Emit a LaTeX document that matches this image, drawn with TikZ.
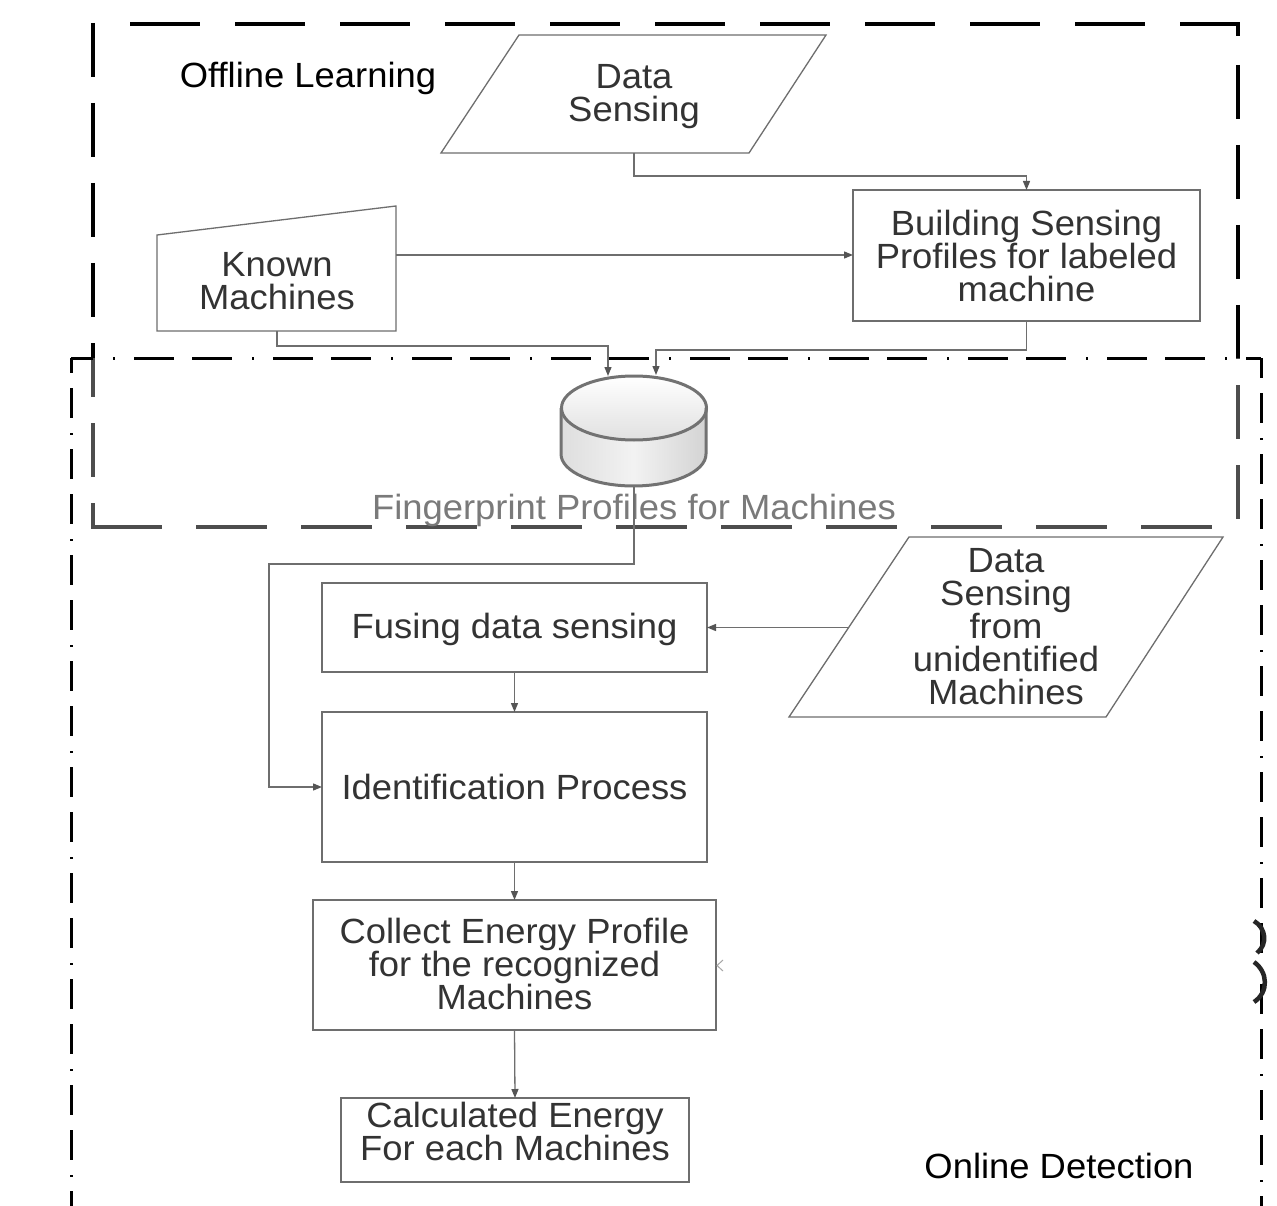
\documentclass[tikz,border=0pt]{standalone}
\usepackage{fontspec}
\setmainfont{Liberation Sans}[FakeStretch=1.04]
\usetikzlibrary{arrows.meta,calc}
\definecolor{linegray}{HTML}{6E6E6E}
\definecolor{tipgray}{HTML}{555555}
\definecolor{textgray}{HTML}{333333}
\definecolor{labelgray}{HTML}{7A7A7A}
\definecolor{cylline}{HTML}{727272}
\begin{document}
\begin{tikzpicture}[x=1pt,y=-1pt,
  box/.style={draw=linegray,line width=1.3pt,inner sep=0pt,outer sep=0pt},
  shapeline/.style={draw=linegray,line width=1.3pt},
  txt/.style={text=textgray,align=center,inner sep=0pt,font=\fontsize{35}{33}\selectfont},
  title/.style={text=black,inner sep=0pt,font=\fontsize{35}{33}\selectfont},
  conn/.style={draw=linegray,line width=1.3pt,-{Triangle[length=9pt,width=7pt,color=tipgray]}},
  offdash/.style={line width=4pt,black},
  ondash/.style={line width=3pt,black}
]
\useasboundingbox (0,0) rectangle (1277,1206);
\fill[white] (0,0) rectangle (1277,1206);

% Offline learning frame
\draw[offdash,dash pattern=on 70pt off 35pt] (130,24) -- (1238,24) -- (1238,37);
\draw[offdash,dash pattern=on 54pt off 26pt] (1238,65) -- (1238,519);
\draw[offdash,dash pattern=on 54pt off 26pt] (93,23) -- (93,527);
\draw[offdash,dash pattern=on 71pt off 34pt] (91,527) -- (1215,527);
% the part of the frame lying inside the online area is toned down
\fill[white,opacity=0.3] (71,358) rectangle (1261,1206);

% Online detection frame (dash-dash-dot)
\draw[ondash,dash pattern=on 2pt off 19pt on 40pt off 18pt on 40pt off 20pt,dash phase=97pt] (71,358) -- (1261,358);
\draw[ondash,dash pattern=on 2pt off 14pt on 30pt off 15pt on 30pt off 15pt,dash phase=31pt] (71,358) -- (71,1206);
\draw[ondash,dash pattern=on 2pt off 14pt on 30pt off 15pt on 30pt off 15pt,dash phase=26pt] (1261,358) -- (1261,1206);
\draw[line width=4.5pt,black!85] (1254,921) .. controls (1266,928) and (1268,944) .. (1257,953);
\draw[line width=4.5pt,black!85] (1254,962) .. controls (1268,972) and (1269,992) .. (1254,1002);

% Frame titles
\node[title] (offt) at (308,78) {Offline Learning};
\node[title] (ont) at (1059,1166) {Online Detection};

% Data Sensing (input)
\draw[shapeline] (441,153) -- (519,35) -- (826,35) -- (749,153) -- cycle;
\node[txt] (ds) at (634,97) {Data\\Sensing};
\coordinate (dsB) at (634,153);

% Known Machines (manual input)
\draw[shapeline] (157,331) -- (157,235) -- (396,206) -- (396,331) -- cycle;
\node[txt] (km) at (277,281) {Known\\Machines};
\coordinate (kmE) at (396,255);
\coordinate (kmB) at (277,331);

% Building sensing profiles
\node[box,minimum width=347pt,minimum height=131pt] (build) at (1026.5,255.5) {};
\node[txt] (buildt) at (build.center) {Building Sensing\\Profiles for labeled\\machine};

% Fingerprint database
\shade[left color=black!13,right color=black!17,middle color=black!5]
  (561,408) -- (561,454) arc[start angle=180,end angle=0,x radius=72.5,y radius=32] -- (706,408) -- cycle;
\shade[top color=white,bottom color=black!12] (634,408) ellipse[x radius=72.5,y radius=32];
\draw[cylline,line width=3pt] (561,408) -- (561,454) arc[start angle=180,end angle=0,x radius=72.5,y radius=32] -- (706,408);
\draw[cylline,line width=3pt] (634,408) ellipse[x radius=72.5,y radius=32];
\coordinate (cylL) at (608,376);
\coordinate (cylR) at (656,375);
\coordinate (cylB) at (634,487);
\node[text=labelgray,inner sep=0pt,font=\fontsize{35}{33}\selectfont] (fpl) at (634,510) {Fingerprint Profiles for Machines};

% Online part
\node[box,minimum width=385pt,minimum height=89pt] (fuse) at (514.5,627.5) {};
\node[txt] (fuset) at (514.5,629) {Fusing data sensing};

\draw[shapeline] (789,717) -- (909,537) -- (1223,537) -- (1106,717) -- cycle;
\node[txt] (dsu) at (1006,627) {Data\\Sensing\\from\\unidentified\\Machines};
\coordinate (dsuL) at (849,627.5);

\node[box,minimum width=385pt,minimum height=150pt] (ident) at (514.5,787) {};
\node[txt] (identt) at (ident.center) {Identification Process};

\node[box,minimum width=403pt,minimum height=130pt] (coll) at (514.5,965) {};
\node[txt] (collt) at (514.5,964) {Collect Energy Profile\\for the recognized\\Machines};

\node[box,minimum width=348pt,minimum height=84pt] (calc) at (515,1140) {};
\node[txt] (calct) at (515,1131) {Calculated Energy\\For each Machines};

% small stray tip beside the energy-profile box
\draw[black!35,line width=1pt] (723,960) -- (717,965.5) -- (723,971);

% Connectors
\draw[conn] (dsB) -- (634,176) -| (build.north);
\draw[conn] (kmE) -- (kmE -| build.west);
\draw[conn] (kmB) -- (277,346) -| (cylL);
\draw[conn] (build.south) -- (1026.5,350) -| (cylR);
\draw[conn] (cylB) -- (634,564) -| ($(ident.west)+(-53,0)$) -- (ident.west);
\draw[conn] (dsuL) -- (dsuL -| fuse.east);
\draw[conn] (fuse.south) -- (ident.north);
\draw[conn] (ident.south) -- (coll.north);
\draw[conn] (coll.south) -- (calc.north);
\end{tikzpicture}
\end{document}
